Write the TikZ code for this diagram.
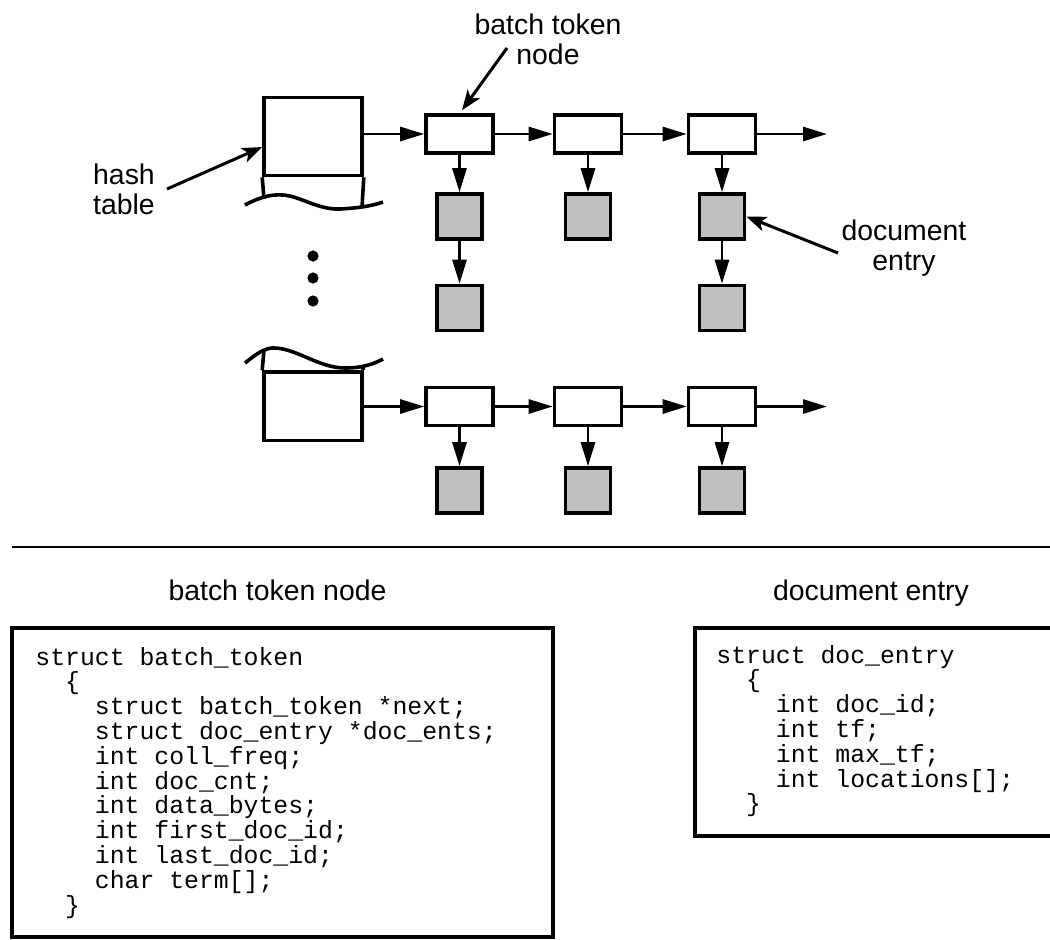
\documentclass[tikz,border=0pt]{standalone}
\usepackage{fontspec}
\setmainfont{Liberation Sans}
\setmonofont{Liberation Mono}
\usepackage{tikz}
\usetikzlibrary{arrows.meta,calc}
\definecolor{docgray}{HTML}{C0C0C0}

\begin{document}
\begin{tikzpicture}[x=0.5pt,y=-0.5pt,
    tokbox/.style={draw, line width=1.8pt, minimum width=33.5pt, minimum height=19pt, inner sep=0pt},
    docbox/.style={draw, line width=1.8pt, fill=docgray, minimum width=22.5pt, minimum height=22.5pt, inner sep=0pt},
    hashbox/.style={draw, line width=1.8pt, minimum width=49pt, inner sep=0pt},
    tbl/.style={line width=1.8pt},
    link/.style={line width=1.4pt, -{Triangle[length=12pt,width=7pt]}},
    pointer/.style={line width=1.5pt, -{Stealth[length=10pt,width=7.5pt,inset=2.5pt]}},
    lbl/.style={font=\fontsize{14.2}{15}\selectfont, align=center, inner sep=0pt},
    code/.style={font=\ttfamily\fontsize{12.4}{12.4}\selectfont, anchor=base west, inner sep=0pt}]
    \useasboundingbox (0,0) rectangle (1050,939);

    %% Hash table, top part
    \node[hashbox, minimum height=39pt] (hashA) at (313,136.5) {};
    \draw[tbl] (hashA.south west) -- (264,199);
    \draw[tbl] (hashA.south east) -- (362,207);
    \draw[tbl] (245,205) .. controls (258,198) and (270,194) .. (283,195)
        .. controls (300,196) and (318,210) .. (340,209)
        .. controls (358,208) and (372,206) .. (383,202);
    %% Hash table, bottom part
    \node[hashbox, minimum height=34.25pt] (hashB) at (313,406.25) {};
    \draw[tbl] (hashB.north west) -- (264,350);
    \draw[tbl] (hashB.north east) -- (362,367);
    \draw[tbl] (245,363) .. controls (254,356) and (262,349) .. (272,348)
        .. controls (295,347) and (318,368) .. (345,368)
        .. controls (362,368) and (374,364) .. (383,359);
    \foreach \y in {256,278,301}
        \fill (313,\y) circle (2.8pt);

    %% Token lists and document entries
    \foreach \x [count=\i] in {459.5,588,722} {
        \node[tokbox] (tokA\i) at (\x,134) {};
        \node[docbox] (docA\i) at (\x,216.5) {};
        \node[tokbox] (tokC\i) at (\x,406.5) {};
        \node[docbox] (docC\i) at (\x,490.5) {};
    }
    \node[docbox] (docB1) at (459.5,308) {};
    \node[docbox] (docB3) at (722,308) {};
    \coordinate (endA) at (827,134);
    \coordinate (endC) at (827,406.5);

    \draw[link] (tokA1.west -| hashA.east) -- (tokA1.west);
    \draw[link] (tokC1.west -| hashB.east) -- (tokC1.west);
    \draw[link] (tokA1.east) -- (tokA2.west);
    \draw[link] (tokA2.east) -- (tokA3.west);
    \draw[link] (tokA3.east) -- (endA);
    \draw[link] (tokC1.east) -- (tokC2.west);
    \draw[link] (tokC2.east) -- (tokC3.west);
    \draw[link] (tokC3.east) -- (endC);
    \foreach \i in {1,2,3} {
        \draw[link] (tokA\i.south) -- (docA\i.north);
        \draw[link] (tokC\i.south) -- (docC\i.north);
    }
    \draw[link] (docA1.south) -- (docB1.north);
    \draw[link] (docA3.south) -- (docB3.north);

    %% Labels
    \node[lbl] (lblbatch) at (548,39) {batch token\\node};
    \node[lbl] (lblhash) at (124,189) {hash\\table};
    \node[lbl] (lbldoc) at (904,248) {document\\entry};
    \coordinate (ptrbatch) at (507,48);
    \coordinate (ptrhash) at (167,189);
    \coordinate (ptrdoc) at (838,253);
    \draw[pointer] (ptrbatch) -- ([xshift=1.25pt,yshift=1.5pt]tokA1.north);
    \draw[pointer] (ptrhash) -- ([yshift=-5.25pt]hashA.west);
    \draw[pointer] (ptrdoc) -- (docA3.east);

    %% Separator
    \draw[line width=1pt] (12,547) -- (1050,547);

    %% Structure declarations
    \node[lbl, anchor=base] (headbatch) at (277.5,600) {batch token node};
    \node[lbl, anchor=base] (headdoc) at (871,600) {document entry};
    \draw[line width=2pt] (11.5,627.5) rectangle (553,936.5);
    \draw[line width=2pt] (694.5,627.5) rectangle (1060,836);
    \foreach \col/\txt [count=\i from 0] in {0/struct batch\_token, 2/\{,
        4/struct batch\_token *next;, 4/struct doc\_entry *doc\_ents;,
        4/int coll\_freq;, 4/int doc\_cnt;, 4/int data\_bytes;,
        4/int first\_doc\_id;, 4/int last\_doc\_id;, 4/char term[];, 2/\}}
        \node[code] (bt\i) at (35+14.88*\col,665+24.8*\i) {\txt};
    \foreach \col/\txt [count=\i from 0] in {0/struct doc\_entry, 2/\{,
        4/int doc\_id;, 4/int tf;, 4/int max\_tf;, 4/int locations[];, 2/\}}
        \node[code] (de\i) at (716+14.88*\col,663+24.8*\i) {\txt};

\end{tikzpicture}
\end{document}
